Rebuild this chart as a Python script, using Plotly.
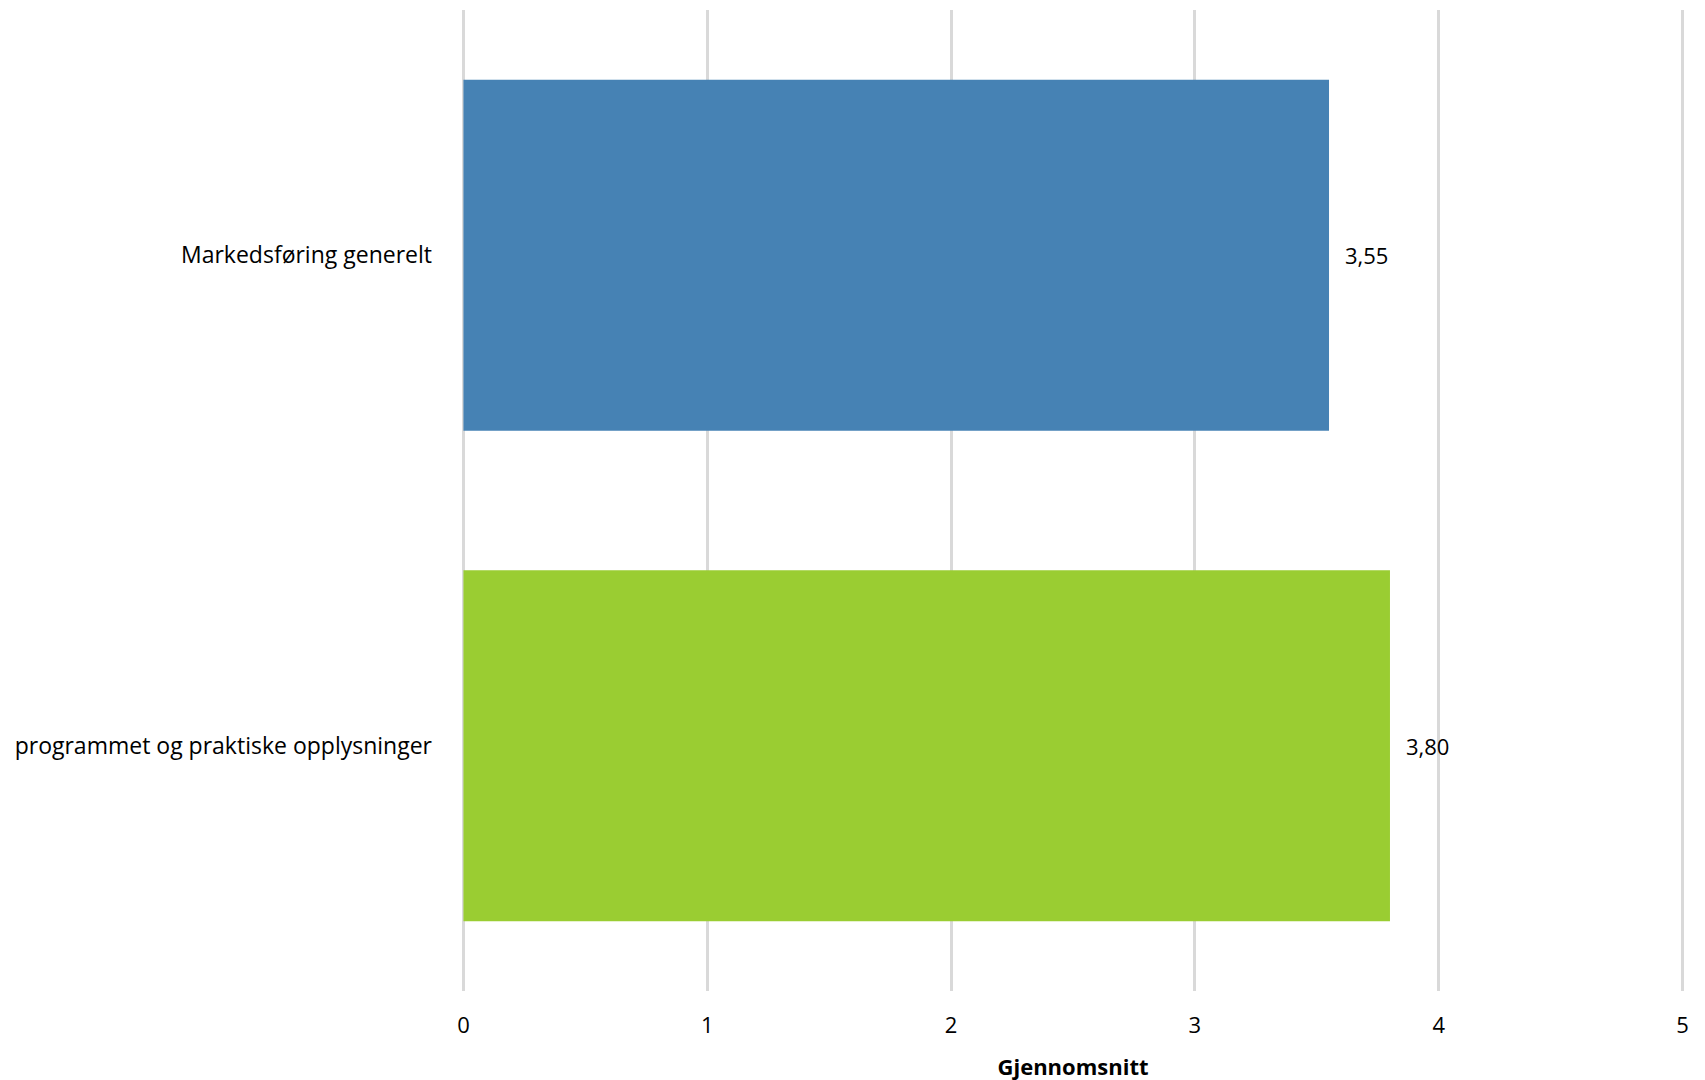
import plotly.graph_objects as go

categories = ["Markedsføring generelt", "programmet og praktiske opplysninger"]
values = [3.55, 3.80]
colors = ["#4682B4", "#9ACD32"]
x_ticks = [0, 1, 2, 3, 4, 5]
x_title = "Gjennomsnitt"

FONT = "Open Sans"
FS = 22

fig = go.Figure()
fig.add_trace(go.Bar(
    y=categories, x=values, orientation="h",
    marker=dict(color=colors, line=dict(width=0)),
    hoverinfo="skip",
))

for c, v in zip(categories, values):
    fig.add_annotation(
        x=v, y=c, xref="x", yref="y",
        text=f"{v:.2f}".replace(".", ","),
        showarrow=False, xanchor="left", xshift=14,
        font=dict(family=FONT, size=FS, color="#000000"),
    )

fig.update_layout(
    width=1705, height=1080,
    margin=dict(l=453, r=28, t=2, b=97),
    paper_bgcolor="white", plot_bgcolor="white",
    bargap=0.284,
    showlegend=False,
    font=dict(family=FONT, size=FS, color="#000000"),
)
fig.update_xaxes(
    range=[-0.01, 5.01], tickvals=x_ticks, ticktext=[str(t) for t in x_ticks],
    showgrid=True, gridcolor="#d9d9d9", gridwidth=2.5,
    zeroline=False, showline=False, ticks="",
    ticklabelstandoff=19,
    title=dict(text=f"<b>{x_title}</b>", standoff=21, font=dict(family=FONT, size=FS)),
)
fig.update_yaxes(
    autorange="reversed", showgrid=False, zeroline=False, showline=False,
    ticks="", ticklabelstandoff=28, tickfont=dict(family=FONT, size=23),
)
fig.write_html("out.html")
